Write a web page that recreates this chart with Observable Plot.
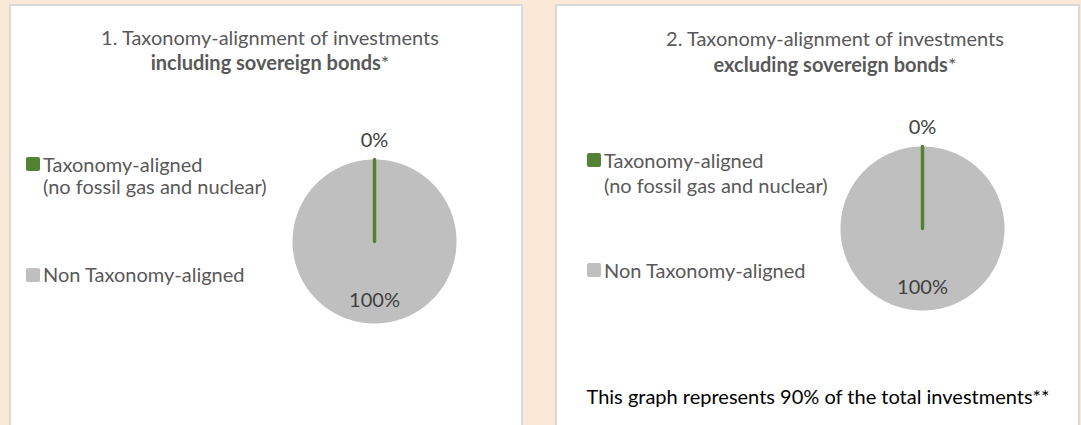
<!DOCTYPE html>
<html><head><meta charset="utf-8">
<script src="https://cdn.jsdelivr.net/npm/d3@7"></script>
<script src="https://cdn.jsdelivr.net/npm/@observablehq/plot@0.6"></script>
<style>
html,body{margin:0;padding:0;}
body{width:1081px;height:425px;background:#fbe9d7;overflow:hidden;position:relative;font-family:Lato,"Open Sans",sans-serif;}
.panel{position:absolute;top:4px;height:440px;background:#fff;border:2px solid #d9d9d9;box-sizing:border-box;}
.t{position:absolute;white-space:nowrap;line-height:1;}
.sw{position:absolute;width:14px;height:14px;border-radius:2px;}
.pie{position:absolute;}
</style></head><body>
<script>
// ---- data ----
const categories = ["Taxonomy-aligned\n(no fossil gas and nuclear)", "Non Taxonomy-aligned"];
const chartTitles = ["1. Taxonomy-alignment of investments", "2. Taxonomy-alignment of investments"];
const chartSubtitles = ["including sovereign bonds", "excluding sovereign bonds"];
const includingValues = [0, 100];
const excludingValues = [0, 100];
const footnote = "This graph represents 90% of the total investments**";
const sliceColors = ["#548235", "#bfbfbf"];

// ---- layout ----
const panels = [
  {left: 9, width: 514, values: includingValues, titleCx: 270, titleBase: [45, 70],
   legendX: 26, legendBase: [172, 194, 282], pieCx: 374, pieCy: 241},
  {left: 555, width: 525, values: excludingValues, titleCx: 835, titleBase: [46, 72],
   legendX: 587, legendBase: [168, 193, 277.5], pieCx: 922, pieCy: 227.5}
];
const R = 82, HALF = 120;
const titleFS = 20, legendFS = 20, labelFS = 20, footFS = 20;
const textColor = "#595959";

function addText(str, x, baseline, fs, opts = {}) {
  const d = document.createElement("div");
  d.className = "t";
  d.style.fontSize = fs + "px";
  d.style.left = x + "px";
  d.style.top = (baseline - 0.887 * fs) + "px";
  d.style.color = opts.color || textColor;
  if (opts.center) d.style.transform = "translateX(-50%)";
  if (opts.html) d.innerHTML = str; else d.textContent = str;
  document.body.appendChild(d);
  return d;
}

panels.forEach((p, pi) => {
  const box = document.createElement("div");
  box.className = "panel";
  box.style.left = p.left + "px";
  box.style.width = p.width + "px";
  document.body.appendChild(box);

  addText(chartTitles[pi], p.titleCx, p.titleBase[0], titleFS, {center: true});
  addText("<b>" + chartSubtitles[pi] + "</b>*", p.titleCx, p.titleBase[1], titleFS, {center: true, html: true});

  // legend
  const lines0 = categories[0].split("\n");
  const sw0 = document.createElement("div");
  sw0.className = "sw"; sw0.style.background = sliceColors[0];
  sw0.style.left = p.legendX + "px"; sw0.style.top = (p.legendBase[0] - 15) + "px";
  document.body.appendChild(sw0);
  addText(lines0[0], p.legendX + 17, p.legendBase[0], legendFS);
  addText(lines0[1], p.legendX + 17, p.legendBase[1], legendFS);
  const sw1 = document.createElement("div");
  sw1.className = "sw"; sw1.style.background = sliceColors[1];
  sw1.style.left = p.legendX + "px"; sw1.style.top = (p.legendBase[2] - 14.5) + "px";
  document.body.appendChild(sw1);
  addText(categories[1], p.legendX + 17, p.legendBase[2], legendFS);

  // pie data
  const arcs = d3.pie().sort(null).value(d => d.value)(
    categories.map((c, i) => ({category: c, value: p.values[i]})));
  const pts = [];
  arcs.forEach((a, i) => {
    const rr = i === 0 ? R : R - 1.5;
    pts.push({slice: i, category: a.data.category, x: 0, y: 0});
    const n = Math.max(1, Math.ceil((a.endAngle - a.startAngle) / (Math.PI / 360)));
    for (let k = 0; k <= n; k++) {
      const ang = a.startAngle + (a.endAngle - a.startAngle) * k / n;
      pts.push({slice: i, category: a.data.category, x: rr * Math.sin(ang), y: rr * Math.cos(ang)});
    }
    pts.push({slice: i, category: a.data.category, x: 0, y: 0});
  });
  const labels = arcs.map(a => {
    const mid = (a.startAngle + a.endAngle) / 2;
    const lr = a.data.value < 5 ? R + 19 : 0.72 * R;
    return {x: lr * Math.sin(mid), y: lr * Math.cos(mid), label: a.data.value + "%"};
  });
  // draw grey (big) slice first, green on top
  const order = [1, 0];
  const chart = Plot.plot({
    width: 2 * HALF, height: 2 * HALF, margin: 0,
    x: {domain: [-HALF, HALF], axis: null},
    y: {domain: [-HALF, HALF], axis: null},
    color: {domain: categories, range: sliceColors},
    style: {background: "transparent", overflow: "visible"},
    marks: [
      ...order.map(i => Plot.line(pts.filter(d => d.slice === i), {
        x: "x", y: "y", fill: "category", stroke: "category",
        strokeWidth: i === 0 ? 3.5 : 3, strokeLinecap: "round", strokeLinejoin: "round", curve: "linear"
      })),
      Plot.text(labels, {x: "x", y: "y", text: "label", fill: "#404040",
        fontSize: labelFS, fontFamily: "Lato, sans-serif", textAnchor: "middle", lineAnchor: "middle"})
    ]
  });
  chart.classList.add("pie");
  chart.style.left = (p.pieCx - HALF) + "px";
  chart.style.top = (p.pieCy - HALF) + "px";
  document.body.appendChild(chart);
});

addText(footnote, 586.5, 404, footFS, {color: "#000"});
</script>
</body></html>
